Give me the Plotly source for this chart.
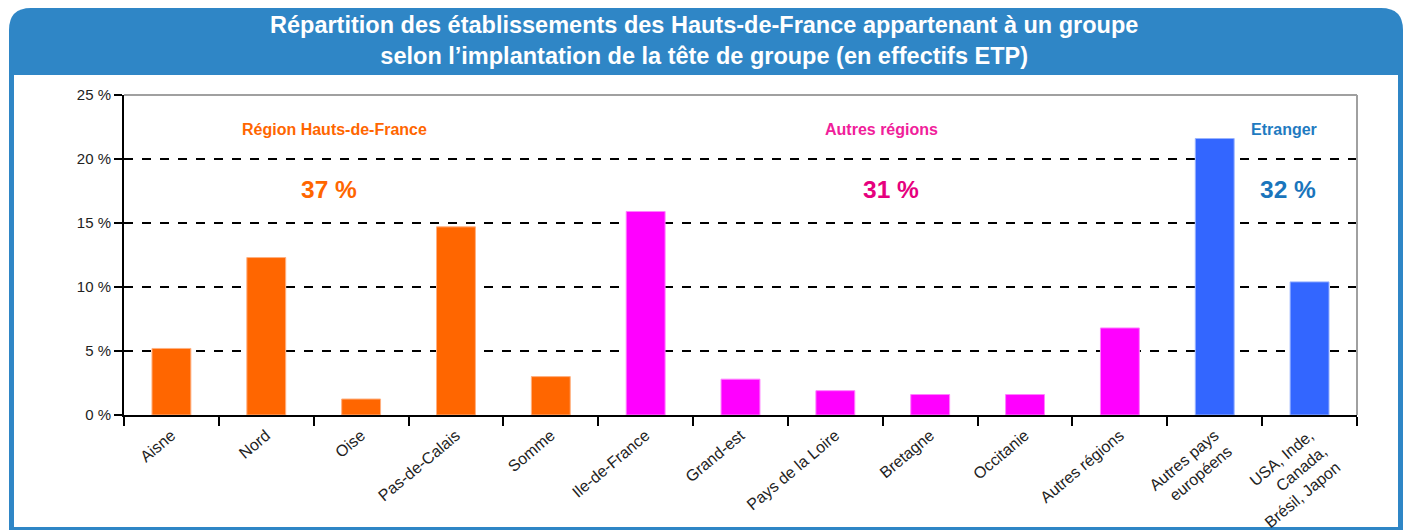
import plotly.graph_objects as go

categories = ["Aisne", "Nord", "Oise", "Pas-de-Calais", "Somme", "Ile-de-France",
              "Grand-est", "Pays de la Loire", "Bretagne", "Occitanie", "Autres régions",
              "Autres pays<br>européens", "USA, Inde,<br>Canada,<br>Brésil, Japon"]
values = [5.2, 12.3, 1.25, 14.7, 3.0, 15.9, 2.8, 1.9, 1.6, 1.6, 6.8, 21.6, 10.4]
groups = ["hdf"] * 5 + ["autres"] * 6 + ["etranger"] * 2
group_colors = {"hdf": "#ff6600", "autres": "#ff00ff", "etranger": "#3366ff"}
group_edges = {"hdf": "#ffb080", "autres": "#ff80ff", "etranger": "#99b3ff"}
group_labels = ["Région Hauts-de-France", "Autres régions", "Etranger"]
group_shares = ["37 %", "31 %", "32 %"]
y_ticks = [0, 5, 10, 15, 20, 25]
y_ticktext = [f"{v} %" for v in y_ticks]

W, H = 1407, 530
L, R, T, B = 124, 50, 95, 115
PW, PH = W - L - R, H - T - B
FONT = "Arial, Liberation Sans, sans-serif"


def px(x):
    return (x - L) / PW


def py(y):
    return (H - B - y) / PH


fig = go.Figure()
fig.add_trace(go.Bar(
    x=list(range(len(categories))), y=values,
    marker=dict(color=[group_colors[g] for g in groups],
                line=dict(color=[group_edges[g] for g in groups], width=1)),
    hoverinfo="skip",
))

shapes = []
r = 22
x0, x1, yt, yb = px(9), px(1403), py(8), py(530)
rx, ry = r / PW, r / PH
path = (f"M{x0},{yb} L{x0},{yt - ry} Q{x0},{yt} {x0 + rx},{yt} "
        f"L{x1 - rx},{yt} Q{x1},{yt} {x1},{yt - ry} L{x1},{yb} Z")
shapes.append(dict(type="path", xref="paper", yref="paper", path=path,
                   fillcolor="#2f86c6", line=dict(width=0), layer="below"))
shapes.append(dict(type="rect", xref="paper", yref="paper",
                   x0=px(14), x1=px(1398), y0=py(527), y1=py(75),
                   fillcolor="white", line=dict(width=0), layer="below"))
shapes.append(dict(type="line", xref="paper", yref="paper", x0=0, x1=1, y0=1, y1=1,
                   line=dict(color="#a0a0a0", width=2), layer="above"))
shapes.append(dict(type="line", xref="paper", yref="paper", x0=1, x1=1, y0=0, y1=1,
                   line=dict(color="#a0a0a0", width=2), layer="above"))

annotations = []
label_pos = [1.72, 7.49, 11.73]
share_pos = [1.66, 7.59, 11.77]
label_colors = ["#ff6600", "#f0209a", "#1f7bc1"]
share_colors = ["#ff6600", "#e6007e", "#1a75bc"]
for i in range(3):
    annotations.append(dict(x=label_pos[i], y=22.3, xref="x", yref="y", text=f"<b>{group_labels[i]}</b>",
                            showarrow=False, font=dict(family=FONT, size=16, color=label_colors[i])))
    annotations.append(dict(x=share_pos[i], y=17.6, xref="x", yref="y", text=f"<b>{group_shares[i]}</b>",
                            showarrow=False, font=dict(family=FONT, size=24.5, color=share_colors[i])))

annotations.append(dict(x=(W / 2 - L) / PW, y=py(40), xref="paper", yref="paper",
                        xanchor="center", yanchor="middle",
                        text="<b>Répartition des établissements des Hauts-de-France appartenant à un groupe<br>"
                             "selon l’implantation de la tête de groupe (en effectifs ETP)</b>",
                        showarrow=False, font=dict(family=FONT, size=23.5, color="white")))

fig.update_layout(
    width=W, height=H,
    margin=dict(l=L, r=R, t=T, b=B, autoexpand=False),
    paper_bgcolor="white", plot_bgcolor="white",
    showlegend=False, bargap=0.59,
    shapes=shapes, annotations=annotations,
    font=dict(family=FONT, size=15, color="#222"),
)
fig.update_xaxes(
    tickmode="array", tickvals=list(range(len(categories))), ticktext=categories,
    range=[-0.5, len(categories) - 0.5],
    tickangle=-40, ticks="", ticklabelstandoff=3,
    showline=True, linecolor="black", linewidth=2, showgrid=False, zeroline=False,
    tickfont=dict(family=FONT, size=16, color="#222"),
    minor=dict(tickmode="array", tickvals=[i - 0.5 for i in range(len(categories) + 1)],
               ticks="outside", ticklen=9, tickcolor="black", tickwidth=2, showgrid=False),
)
fig.update_yaxes(
    range=[0, 25], tickmode="array", tickvals=y_ticks, ticktext=y_ticktext,
    ticks="outside", ticklen=8, tickcolor="black", tickwidth=2,
    showline=True, linecolor="black", linewidth=2,
    showgrid=True, gridcolor="black", griddash="dash", gridwidth=1.5,
    zeroline=False, tickfont=dict(family=FONT, size=15, color="#222"),
)

fig.write_html("out.html", config={"displayModeBar": False},
               post_script="document.body.style.margin='0';document.body.style.overflow='hidden';")
